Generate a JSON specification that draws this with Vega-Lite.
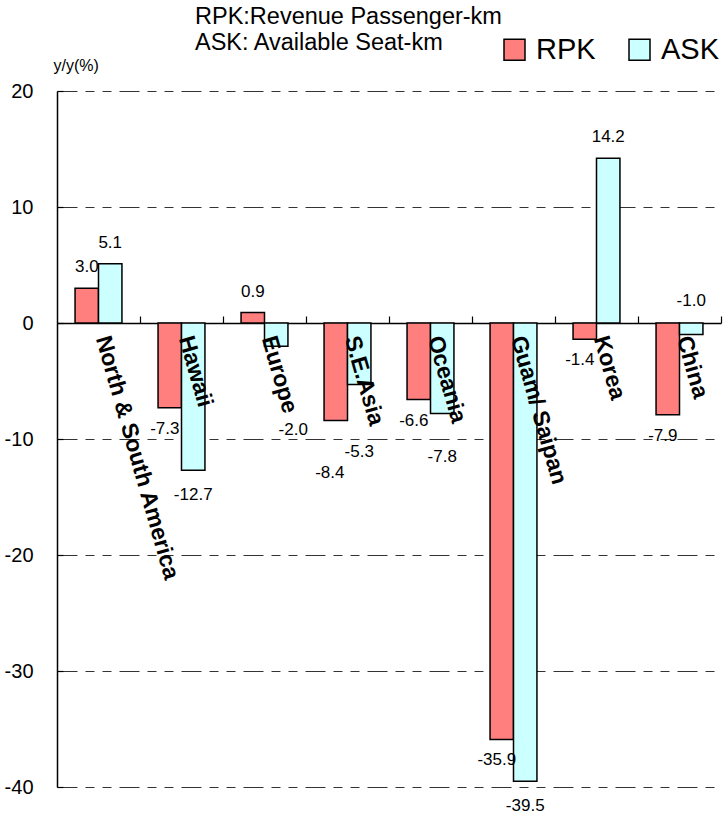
{
  "$schema": "https://vega.github.io/schema/vega-lite/v6.json",
  "autosize": "none",
  "width": 664,
  "height": 696,
  "padding": {"left": 57, "top": 91, "right": 5, "bottom": 28},
  "background": "white",
  "config": {
    "locale": {"number": {"decimal": ".", "thousands": ",", "grouping": [3], "currency": ["", ""], "minus": "-"}},
    "view": {"stroke": null},
    "font": "Liberation Sans",
    "text": {"font": "Liberation Sans", "fontSize": 17, "color": "black"}
  },
  "title": {
    "text": ["RPK:Revenue Passenger-km", "ASK: Available Seat-km"],
    "anchor": "start",
    "frame": "group",
    "dx": 138,
    "font": "Liberation Sans",
    "fontSize": 23.5,
    "fontWeight": "normal",
    "color": "black",
    "lineHeight": 26,
    "baseline": "top",
    "offset": -19
  },
  "data": {
    "values": [
      {"region": "North & South America", "series": "RPK", "value": 3.0},
      {"region": "North & South America", "series": "ASK", "value": 5.1},
      {"region": "Hawaii", "series": "RPK", "value": -7.3},
      {"region": "Hawaii", "series": "ASK", "value": -12.7},
      {"region": "Europe", "series": "RPK", "value": 0.9},
      {"region": "Europe", "series": "ASK", "value": -2.0},
      {"region": "S.E.Asia", "series": "RPK", "value": -8.4},
      {"region": "S.E.Asia", "series": "ASK", "value": -5.3},
      {"region": "Oceania", "series": "RPK", "value": -6.6},
      {"region": "Oceania", "series": "ASK", "value": -7.8},
      {"region": "Guam/ Saipan", "series": "RPK", "value": -35.9},
      {"region": "Guam/ Saipan", "series": "ASK", "value": -39.5},
      {"region": "Korea", "series": "RPK", "value": -1.4},
      {"region": "Korea", "series": "ASK", "value": 14.2},
      {"region": "China", "series": "RPK", "value": -7.9},
      {"region": "China", "series": "ASK", "value": -1.0}
    ]
  },
  "encoding": {
    "x": {
      "field": "region",
      "type": "nominal",
      "sort": null,
      "scale": {"paddingInner": 0, "paddingOuter": 0},
      "axis": {
        "orient": "top",
        "offset": -232,
        "title": null,
        "labels": false,
        "grid": false,
        "domainColor": "black",
        "domainWidth": 1.5,
        "ticks": true,
        "bandPosition": 1,
        "tickSize": 7,
        "tickColor": "black",
        "tickWidth": 1.2
      }
    }
  },
  "layer": [
    {
      "mark": {"type": "bar", "stroke": "black", "strokeWidth": 1.5},
      "encoding": {
        "xOffset": {"field": "series", "sort": ["RPK", "ASK"], "scale": {"paddingOuter": 0.77, "paddingInner": 0}},
        "y": {
          "field": "value",
          "type": "quantitative",
          "scale": {"domain": [-40, 20], "nice": false, "zero": false},
          "axis": {
            "values": [-40, -30, -20, -10, 0, 10, 20],
            "format": "d",
            "title": "y/y(%)",
            "titleAngle": 0,
            "titleAlign": "left",
            "titleBaseline": "middle",
            "titleX": -4,
            "titleY": -26,
            "titleFont": "Liberation Sans",
            "titleFontSize": 16,
            "titleFontWeight": "normal",
            "titleColor": "black",
            "labelFont": "Liberation Sans",
            "labelFontSize": 20,
            "labelColor": "black",
            "labelPadding": 30,
            "domainColor": "black",
            "domainWidth": 1.5,
            "tickSize": -6,
            "tickColor": "black",
            "tickWidth": 1.2,
            "grid": true,
            "gridColor": "#333333",
            "gridWidth": 1,
            "gridDash": [20, 8, 9, 8, 9, 8]
          }
        },
        "color": {
          "field": "series",
          "type": "nominal",
          "scale": {"domain": ["RPK", "ASK"], "range": ["#FF7F7F", "#CCFFFF"]},
          "legend": {
            "title": null,
            "orient": "none",
            "direction": "horizontal",
            "legendX": 443,
            "legendY": -56,
            "symbolType": "square",
            "symbolSize": 441,
            "symbolStrokeColor": "black",
            "symbolStrokeWidth": 1.5,
            "symbolOpacity": 1,
            "labelFont": "Liberation Sans",
            "labelFontSize": 29,
            "labelColor": "black",
            "labelOffset": 7,
            "columnPadding": 29
          }
        }
      }
    },
    {
      "transform": [{"filter": "datum.series === 'RPK'"}],
      "mark": {"type": "text", "font": "Liberation Sans", "fontWeight": "bold", "fontSize": 23, "angle": 74, "align": "left", "baseline": "middle", "dx": 14},
      "encoding": {
        "y": {"datum": 0, "type": "quantitative"},
        "text": {"field": "region"}
      }
    },
    {
      "transform": [{"filter": "datum.value > 0"}],
      "mark": {"type": "text", "baseline": "bottom", "dy": -12},
      "encoding": {
        "xOffset": {"field": "series", "sort": ["RPK", "ASK"]},
        "y": {"field": "value", "type": "quantitative"},
        "text": {"field": "value", "format": ".1f"}
      }
    },
    {
      "transform": [{"filter": "datum.value < 0 && datum.series === 'RPK' && datum.region !== 'S.E.Asia'"}],
      "mark": {"type": "text", "baseline": "middle", "dy": 21, "dx": -5},
      "encoding": {
        "xOffset": {"field": "series", "sort": ["RPK", "ASK"]},
        "y": {"field": "value", "type": "quantitative"},
        "text": {"field": "value", "format": ".1f"}
      }
    },
    {
      "transform": [{"filter": "datum.series === 'ASK' && (datum.region === 'Hawaii' || datum.region === 'Guam/ Saipan')"}],
      "mark": {"type": "text", "baseline": "middle", "dy": 25},
      "encoding": {
        "xOffset": {"field": "series", "sort": ["RPK", "ASK"]},
        "y": {"field": "value", "type": "quantitative"},
        "text": {"field": "value", "format": ".1f"}
      }
    },
    {
      "transform": [{"filter": "datum.series === 'RPK' && datum.region === 'S.E.Asia'"}],
      "mark": {"type": "text", "baseline": "middle", "dy": 53, "dx": -6},
      "encoding": {
        "xOffset": {"field": "series", "sort": ["RPK", "ASK"]},
        "y": {"field": "value", "type": "quantitative"},
        "text": {"field": "value", "format": ".1f"}
      }
    },
    {
      "transform": [{"filter": "datum.series === 'ASK' && datum.region === 'S.E.Asia'"}],
      "mark": {"type": "text", "baseline": "middle", "dy": 68},
      "encoding": {
        "xOffset": {"field": "series", "sort": ["RPK", "ASK"]},
        "y": {"field": "value", "type": "quantitative"},
        "text": {"field": "value", "format": ".1f"}
      }
    },
    {
      "transform": [{"filter": "datum.series === 'ASK' && datum.region === 'Oceania'"}],
      "mark": {"type": "text", "baseline": "middle", "dy": 44},
      "encoding": {
        "xOffset": {"field": "series", "sort": ["RPK", "ASK"]},
        "y": {"field": "value", "type": "quantitative"},
        "text": {"field": "value", "format": ".1f"}
      }
    },
    {
      "transform": [{"filter": "datum.series === 'ASK' && datum.region === 'Europe'"}],
      "mark": {"type": "text", "baseline": "middle", "dy": 84, "dx": 17},
      "encoding": {
        "xOffset": {"field": "series", "sort": ["RPK", "ASK"]},
        "y": {"field": "value", "type": "quantitative"},
        "text": {"field": "value", "format": ".1f"}
      }
    },
    {
      "transform": [{"filter": "datum.series === 'ASK' && datum.region === 'China'"}],
      "mark": {"type": "text", "baseline": "bottom", "dy": -25},
      "encoding": {
        "xOffset": {"field": "series", "sort": ["RPK", "ASK"]},
        "y": {"field": "value", "type": "quantitative"},
        "text": {"field": "value", "format": ".1f"}
      }
    }
  ]
}
